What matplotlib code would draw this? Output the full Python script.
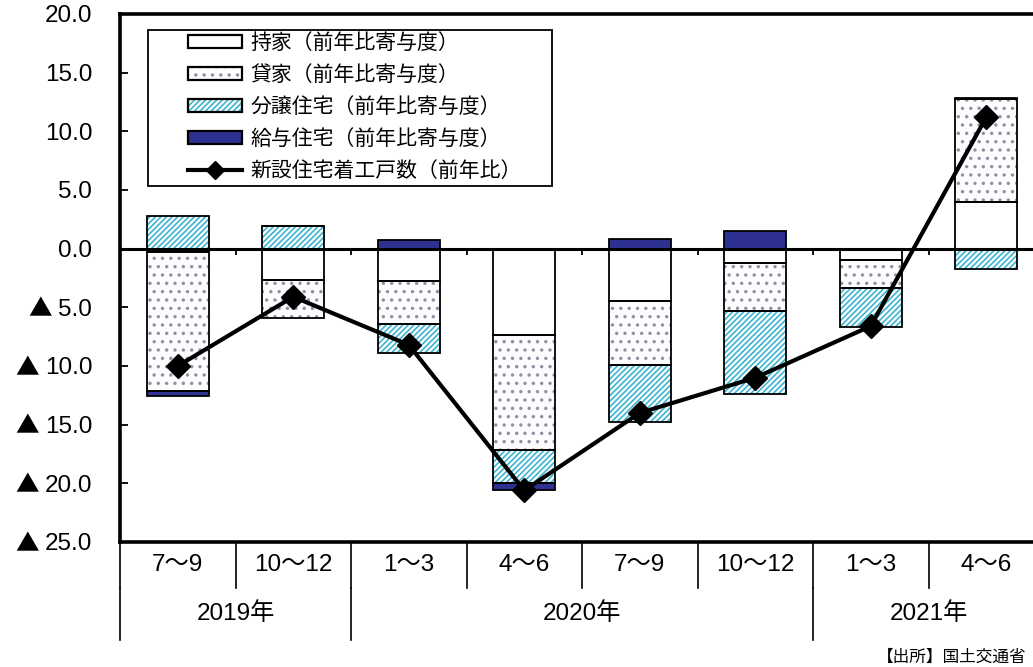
import numpy as np
import matplotlib
matplotlib.use('Agg')
import matplotlib.pyplot as plt
from matplotlib.patches import Rectangle, Patch
from matplotlib.lines import Line2D
import matplotlib.transforms as mtransforms

plt.rcParams['font.family'] = ['Liberation Sans', 'Noto Sans CJK JP', 'DejaVu Sans']
plt.rcParams['hatch.linewidth'] = 1.2

# Data
quarters = ['7〜9', '10〜12', '1〜3', '4〜6', '7〜9', '10〜12', '1〜3', '4〜6']
years = ['2019年', '2020年', '2021年']
year_spans = [(0, 1), (2, 5), (6, 7)]  # first and last quarter index of each year

owned = [-0.3, -2.7, -2.75, -7.4, -4.5, -1.25, -1.0, 4.0]          # 持家
rented = [-11.8, -3.2, -3.65, -9.8, -5.4, -4.1, -2.35, 8.75]       # 貸家
for_sale = [2.75, 1.95, -2.5, -2.75, -4.9, -7.0, -3.3, -1.75]      # 分譲住宅
company = [-0.45, 0.0, 0.75, -0.65, 0.8, 1.5, 0.0, 0.12]           # 給与住宅
total = [-10.0, -4.1, -8.2, -20.6, -14.0, -11.0, -6.6, 11.2]       # 新設住宅着工戸数

series = [
    ('持家（前年比寄与度）', owned, 'white', None, 'white'),
    ('貸家（前年比寄与度）', rented, '#fcfbfe', '..', '#8f8f9f'),
    ('分譲住宅（前年比寄与度）', for_sale, 'white', '//////', '#3cb4d0'),
    ('給与住宅（前年比寄与度）', company, '#2e3192', None, '#2e3192'),
]

fig = plt.figure(figsize=(10.33, 6.67), dpi=100)
ax = fig.add_axes([120 / 1033, 1 - 542 / 667, 924 / 1033, 528 / 667])

x = np.arange(len(quarters))
width = 0.54
pos_base = np.zeros(len(x))
neg_base = np.zeros(len(x))
handles, labels = [], []
for label, vals, face, hatch, hcol in series:
    vals = np.array(vals, dtype=float)
    bottoms = np.where(vals >= 0, pos_base, neg_base)
    ax.bar(x, vals, width, bottom=bottoms, color=face, hatch=hatch,
           edgecolor=hcol, linewidth=0, zorder=2)
    ax.bar(x, vals, width, bottom=bottoms, facecolor='none',
           edgecolor='black', linewidth=1.3, zorder=3)
    pos_base = pos_base + np.where(vals >= 0, vals, 0)
    neg_base = neg_base + np.where(vals < 0, vals, 0)
    handles.append((Patch(facecolor=face, hatch=hatch, edgecolor=hcol, lw=0),
                    Patch(facecolor='none', edgecolor='black', lw=1.6)))
    labels.append(label)

ax.plot(x, total, color='black', lw=3, marker='D', markersize=12.5, zorder=5)
handles.append(Line2D([], [], color='black', lw=3, marker='D', markersize=9))
labels.append('新設住宅着工戸数（前年比）')

ax.axhline(0, color='black', lw=2.2, zorder=4)
# small tick marks at category boundaries on the zero line
ax.vlines(x[:-1] + 0.5, -0.5, 0, color='black', lw=1.3, zorder=4)

ax.set_xlim(-0.5, len(x) - 0.5)
ax.set_ylim(-25, 20)
ax.set_xticks([])
yt = np.arange(-25, 21, 5)
ax.set_yticks(yt)
ax.set_yticklabels([f'{abs(v):.1f}' for v in yt], fontsize=17.5)
ax.tick_params(axis='y', direction='in', length=6, width=1.3, pad=20)
for s in ax.spines.values():
    s.set_linewidth(2.6)

# legend: frameless, with a separate box
ax.legend(handles, labels, loc='upper left', bbox_to_anchor=(68 / 924, 1 - 19 / 528),
          frameon=False, fontsize=15, handlelength=2.6, handleheight=0.55,
          handletextpad=0.4, labelspacing=0.58, borderpad=0, borderaxespad=0)
ax.add_patch(Rectangle((28 / 924, 1 - 172 / 528), 404 / 924, 156 / 528,
                       transform=ax.transAxes, facecolor='none', edgecolor='black',
                       lw=1.3, zorder=6))

# category table under the axes
trans = mtransforms.blended_transform_factory(ax.transData, ax.transAxes)
row1 = -46 / 528
row2 = -98 / 528
for b in np.arange(len(x) + 1) - 0.5:
    ax.plot([b, b], [0, row1], color='black', lw=1.2, transform=trans, clip_on=False)
for q, lab in zip(x, quarters):
    ax.text(q, row1 / 2, lab, transform=trans, ha='center', va='center', fontsize=17.5)
for (a, b), yl in zip(year_spans, years):
    ax.plot([a - 0.5, a - 0.5], [row1, row2], color='black', lw=1.2, transform=trans, clip_on=False)
    ax.text((a + b) / 2, (row1 + row2) / 2, yl, transform=trans, ha='center', va='center', fontsize=17.5)
ax.plot([len(x) - 0.5] * 2, [row1, row2], color='black', lw=1.2, transform=trans, clip_on=False)

fig.text(877 / 1033, 1 - 657 / 667, '【出所】国土交通省', fontsize=12, ha='left', va='center')

# negative values are marked with a triangle in front of the number
fig.canvas.draw()
for lab, v in zip(ax.get_yticklabels(), yt):
    if v < 0:
        bb = lab.get_window_extent()
        fig.text(bb.x0 - 6, (bb.y0 + bb.y1) / 2, '▲', transform=mtransforms.IdentityTransform(),
                 ha='right', va='center', fontsize=17, family=['Noto Sans CJK JP'])

fig.savefig('out.png', dpi=100)
